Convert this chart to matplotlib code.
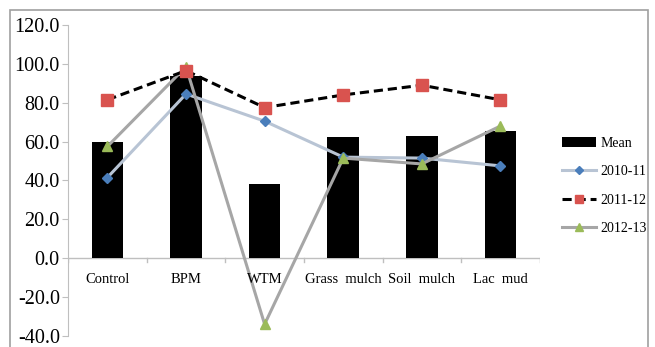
import numpy as np
import matplotlib.pyplot as plt
from matplotlib.patches import Rectangle

categories = ['Control', 'BPM', 'WTM', 'Grass  mulch', 'Soil  mulch', 'Lac  mud']
mean = [60.0, 94.0, 38.0, 62.5, 63.0, 65.5]
y2010 = [41.5, 84.5, 70.5, 52.0, 51.5, 47.5]
y2011 = [81.5, 96.5, 77.5, 84.0, 89.0, 81.5]
y2012 = [57.5, 98.5, -34.0, 51.5, 48.5, 68.0]

plt.rcParams['font.family'] = ['Liberation Serif', 'DejaVu Serif']

fig = plt.figure(figsize=(6.55, 3.47), dpi=100)
ax = fig.add_axes([0.104, 0.032, 0.72, 0.896])

x = np.arange(len(categories))
hb = ax.bar(x, mean, width=0.4, color='black', label='Mean', zorder=2)
h1, = ax.plot(x, y2010, color='#b8c4d4', lw=2.2, marker='D', ms=5,
              mfc='#4a7ebb', mec='#4a7ebb', label='2010-11', zorder=3)
h2, = ax.plot(x, y2011, color='black', lw=2.2, ls=(0, (3, 1.6)), marker='s', ms=8,
              mfc='#d9534f', mec='#d9534f', label='2011-12', zorder=4)
h3, = ax.plot(x, y2012, color='#a6a6a6', lw=2.2, marker='^', ms=7,
              mfc='#9bbb59', mec='#9bbb59', label='2012-13', zorder=3)

ax.set_xlim(-0.5, 5.5)
ax.set_ylim(-40, 120)
ax.set_yticks(np.arange(-40, 121, 20))
ax.set_yticklabels(['%.1f' % v for v in np.arange(-40, 121, 20)], fontsize=14.5)

for s in ['top', 'right', 'bottom']:
    ax.spines[s].set_visible(False)
ax.spines['left'].set_color('#bfbfbf')
ax.tick_params(axis='y', color='#bfbfbf', length=4, pad=2)
ax.set_xticks([])
ax.axhline(0, color='#bfbfbf', lw=1, zorder=1)
for b in np.arange(-0.5, 5.6, 1):
    ax.plot([b, b], [0, -2.2], color='#bfbfbf', lw=1, zorder=1)
for i, c in enumerate(categories):
    ax.text(i, -7.5, c, ha='center', va='top', fontsize=10.5)

ax.legend([hb, h1, h2, h3], ['Mean', '2010-11', '2011-12', '2012-13'],
          loc='upper left', bbox_to_anchor=(1.02, 0.68), frameon=False,
          fontsize=10, handlelength=2.5, labelspacing=1.1, handletextpad=0.3,
          markerscale=0.8)

fig.patches.append(Rectangle((0.015, -0.1), 0.975, 1.07, transform=fig.transFigure,
                             fill=False, edgecolor='#a0a0a0', lw=1.2))

plt.savefig('out.png', dpi=100)
